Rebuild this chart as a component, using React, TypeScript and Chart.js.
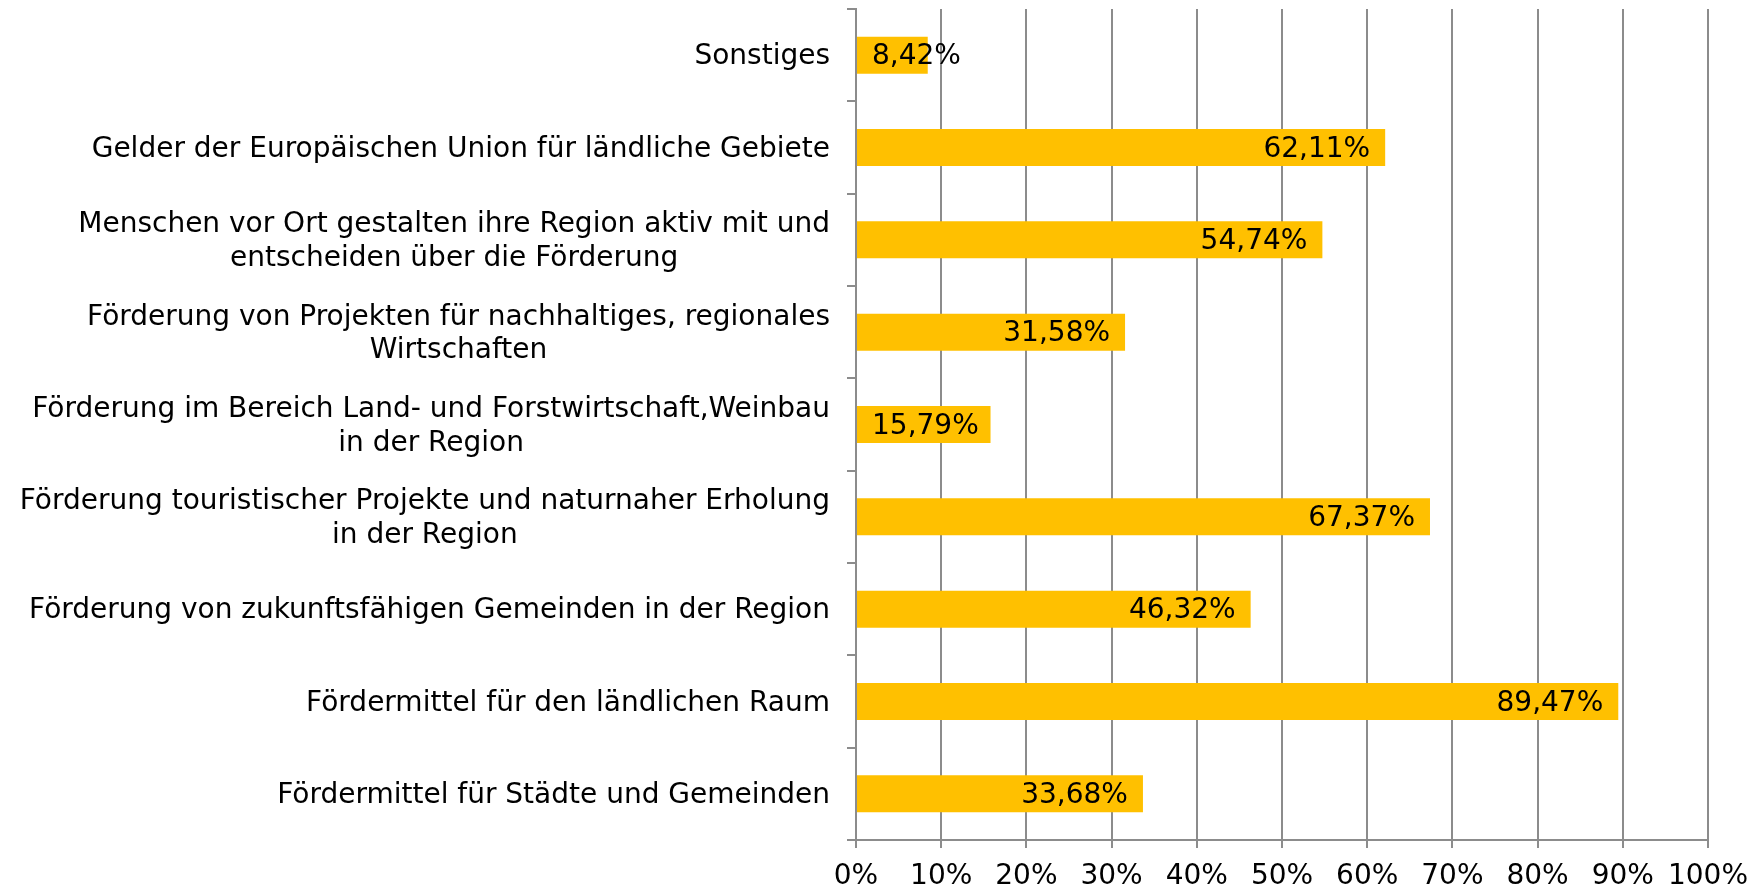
import React, { useEffect, useRef } from "react";
import { Chart, registerables } from "chart.js";

Chart.register(...registerables);

const categories: string[][] = [
  ["Sonstiges"],
  ["Gelder der Europäischen Union für ländliche Gebiete"],
  ["Menschen vor Ort gestalten ihre Region aktiv mit und", "entscheiden über die Förderung"],
  ["Förderung von Projekten für nachhaltiges, regionales", "Wirtschaften"],
  ["Förderung im Bereich Land- und Forstwirtschaft,Weinbau", "in der Region"],
  ["Förderung touristischer Projekte und naturnaher Erholung", "in der Region"],
  ["Förderung von zukunftsfähigen Gemeinden in der Region"],
  ["Fördermittel für den ländlichen Raum"],
  ["Fördermittel für Städte und Gemeinden"],
];

const values: number[] = [8.42, 62.11, 54.74, 31.58, 15.79, 67.37, 46.32, 89.47, 33.68];

const xTicks: number[] = [0, 10, 20, 30, 40, 50, 60, 70, 80, 90, 100];

const FONT_FAMILY = "'DejaVu Sans', Verdana, sans-serif";
const FONT_SIZE = 28;
const LINE_H = 33.7;
const GRID = "#8c8c8c";
const BAR = "#FFC000";

const fmt = (v: number) => v.toFixed(2).replace(".", ",") + "%";

const yLabelPlugin = {
  id: "yLabelPlugin",
  afterDraw(chart: any) {
    const ctx = chart.ctx;
    const yScale = chart.scales.y;
    const right = chart.chartArea.left - 26;
    ctx.save();
    ctx.font = `${FONT_SIZE}px ${FONT_FAMILY}`;
    ctx.fillStyle = "#000";
    ctx.textBaseline = "middle";
    ctx.textAlign = "center";
    categories.forEach((lines, i) => {
      const cy = yScale.getPixelForTick(i) + 2;
      const w = Math.max(...lines.map((l) => ctx.measureText(l).width));
      const cx = right - w / 2;
      const startY = cy - ((lines.length - 1) * LINE_H) / 2;
      lines.forEach((l, j) => ctx.fillText(l, cx, startY + j * LINE_H));
    });
    ctx.restore();
  },
};

const dataLabelPlugin = {
  id: "dataLabelPlugin",
  afterDatasetsDraw(chart: any) {
    const ctx = chart.ctx;
    const meta = chart.getDatasetMeta(0);
    const pad = 15;
    ctx.save();
    ctx.font = `${FONT_SIZE}px ${FONT_FAMILY}`;
    ctx.fillStyle = "#000";
    ctx.textBaseline = "middle";
    ctx.textAlign = "left";
    meta.data.forEach((el: any, i: number) => {
      const txt = fmt(values[i]);
      const w = ctx.measureText(txt).width;
      const x = Math.max(el.x - pad - w, el.base + pad);
      ctx.fillText(txt, x, el.y + 2);
    });
    ctx.restore();
  },
};

export default function App() {
  const ref = useRef<HTMLCanvasElement | null>(null);
  useEffect(() => {
    if (!ref.current) return;
    const chart = new Chart(ref.current, {
      type: "bar",
      data: {
        labels: categories.map((c) => c.join(" ")),
        datasets: [
          {
            data: values,
            backgroundColor: BAR,
            borderWidth: 0,
            barPercentage: 0.4,
            categoryPercentage: 1,
          },
        ],
      },
      plugins: [yLabelPlugin, dataLabelPlugin],
      options: {
        indexAxis: "y",
        animation: false,
        responsive: false,
        layout: { padding: { top: 9, right: 55, left: 0, bottom: 0 } },
        plugins: { legend: { display: false }, tooltip: { enabled: false } },
        scales: {
          x: {
            min: 0,
            max: 100,
            afterBuildTicks: (scale: any) => {
              scale.ticks = xTicks.map((v) => ({ value: v }));
            },
            afterFit: (scale: any) => {
              scale.height = 48;
            },
            ticks: {
              font: { family: FONT_FAMILY, size: FONT_SIZE },
              color: "#000",
              padding: 12,
              maxRotation: 0,
              autoSkip: false,
              callback: (v: any) => v + "%",
            },
            grid: { color: GRID, lineWidth: 2, tickLength: 8, drawTicks: true },
            border: { color: GRID, width: 2 },
          },
          y: {
            afterFit: (scale: any) => {
              scale.width = 856;
            },
            ticks: { display: false },
            grid: {
              display: true,
              drawOnChartArea: false,
              drawTicks: true,
              tickLength: 9,
              color: GRID,
              lineWidth: 2,
              offset: true,
            },
            border: { color: GRID, width: 2 },
          },
        },
      },
    });
    return () => chart.destroy();
  }, []);
  return (
    <div style={{ position: "fixed", left: 0, top: 0, width: 1763, height: 888, background: "#fff" }}>
      <canvas ref={ref} width={1763} height={888} style={{ display: "block" }} />
    </div>
  );
}
